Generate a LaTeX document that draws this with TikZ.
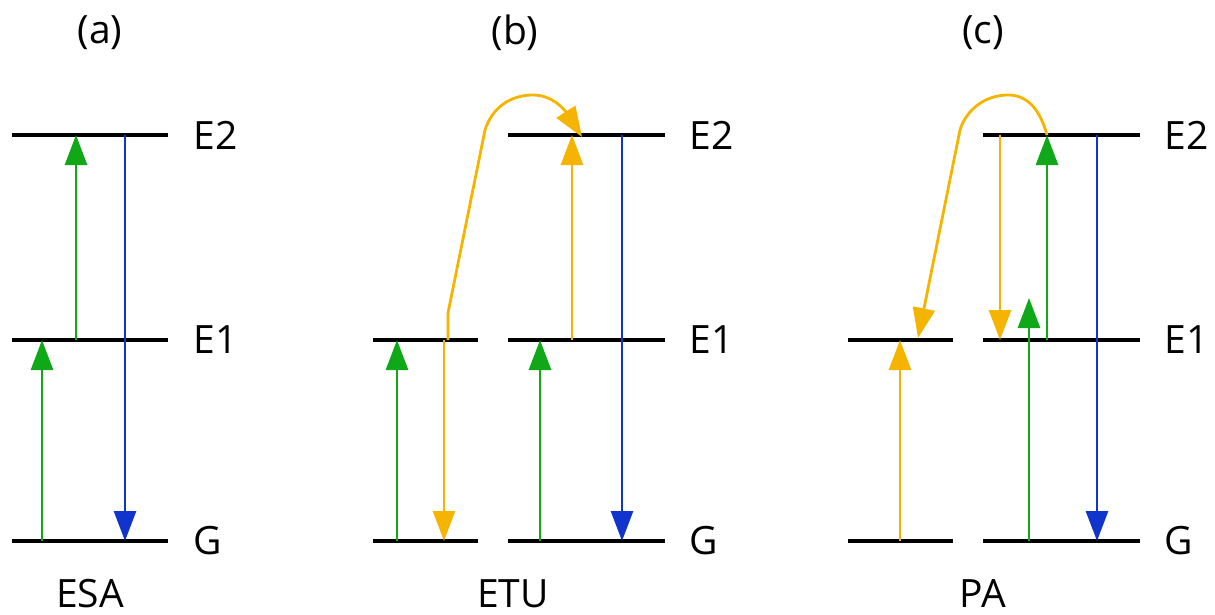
\documentclass[tikz,border=0pt]{standalone}
\usepackage{fontspec}
\setmainfont{Open Sans}
\usetikzlibrary{arrows.meta}
\definecolor{cgreen}{RGB}{16,168,24}
\definecolor{corange}{RGB}{245,180,0}
\definecolor{cblue}{RGB}{16,52,204}
\tikzset{
  level/.style={line width=2pt,black},
  tr/.style={line width=1.4pt,-{Triangle[length=15pt,width=11pt]}},
  gr/.style={tr,cgreen},
  orr/.style={tr,corange},
  bl/.style={tr,cblue},
  lab/.style={font=\fontsize{19.5}{23}\selectfont,inner sep=0pt},
}
\begin{document}
\begin{tikzpicture}[x=0.5pt,y=-0.5pt]
\useasboundingbox (0,0) rectangle (1215,615);
% ---------- level coordinates
\foreach \n/\y in {E2/135,E1/340,G/541}{
  \coordinate (a\n l) at (12,\y); \coordinate (a\n r) at (168,\y);
  \coordinate (b\n l) at (508,\y); \coordinate (b\n r) at (665,\y);
  \coordinate (c\n l) at (983,\y); \coordinate (c\n r) at (1140,\y);
}
\foreach \n/\y in {E1/340,G/541}{
  \coordinate (bs\n l) at (373,\y); \coordinate (bs\n r) at (478,\y);
  \coordinate (cs\n l) at (848,\y); \coordinate (cs\n r) at (953,\y);
}
\foreach \p in {a,b,c}{
  \draw[level] (\p E2l) -- (\p E2r);
  \draw[level] (\p E1l) -- (\p E1r);
  \draw[level] (\p Gl) -- (\p Gr);
}
\foreach \p in {bs,cs}{
  \draw[level] (\p E1l) -- (\p E1r);
  \draw[level] (\p Gl) -- (\p Gr);
}
% ---------- labels
\node[lab,anchor=west] (la2) at (193,135) {E2};
\node[lab,anchor=west] (la1) at (193,340) {E1};
\node[lab,anchor=west] (la0) at (193,541) {G};
\node[lab,anchor=west] (lb2) at (689,135) {E2};
\node[lab,anchor=west] (lb1) at (689,340) {E1};
\node[lab,anchor=west] (lb0) at (689,541) {G};
\node[lab,anchor=west] (lc2) at (1164,135) {E2};
\node[lab,anchor=west] (lc1) at (1164,340) {E1};
\node[lab,anchor=west] (lc0) at (1164,541) {G};
\node[lab] (ta) at (100,33) {(a)};
\node[lab] (tb) at (515,33) {(b)};
\node[lab] (tc) at (983,33) {(c)};
\node[lab] (na) at (90,594) {ESA};
\node[lab] (nb) at (513,594) {ETU};
\node[lab] (nc) at (983,594) {PA};
% ---------- panel a arrows
\coordinate (a1s) at (42,541); \coordinate (a1e) at (42,340);
\coordinate (a2s) at (76,340); \coordinate (a2e) at (76,135);
\coordinate (a3s) at (125,135); \coordinate (a3e) at (125,541);
\draw[gr] (a1s) -- (a1e);
\draw[gr] (a2s) -- (a2e);
\draw[bl] (a3s) -- (a3e);
% ---------- panel b arrows
\coordinate (b1s) at (397,541); \coordinate (b1e) at (397,340);
\coordinate (b2s) at (444,340); \coordinate (b2e) at (444,541);
\coordinate (b3s) at (540,541); \coordinate (b3e) at (540,340);
\coordinate (b4s) at (572,340); \coordinate (b4e) at (572,135);
\coordinate (b5s) at (622,135); \coordinate (b5e) at (622,541);
\coordinate (bcs) at (448,340); \coordinate (bc1) at (448,313);
\coordinate (bc2) at (485,130); \coordinate (bc3) at (533,95);
\coordinate (bce) at (582,137);
\draw[gr] (b1s) -- (b1e);
\draw[orr] (b2s) -- (b2e);
\draw[gr] (b3s) -- (b3e);
\draw[orr] (b4s) -- (b4e);
\draw[bl] (b5s) -- (b5e);
\draw[orr,line join=round] (bcs) -- (bc1) -- (bc2)
  .. controls (492,108) and (510,95) .. (bc3)
  .. controls (554,95) and (566,112) .. (bce);
% ---------- panel c arrows
\coordinate (c1s) at (900,541); \coordinate (c1e) at (900,340);
\coordinate (c2s) at (1000,135); \coordinate (c2e) at (1000,340);
\coordinate (c3s) at (1029,541); \coordinate (c3e) at (1029,298);
\coordinate (c4s) at (1047,340); \coordinate (c4e) at (1047,135);
\coordinate (c5s) at (1097,135); \coordinate (c5e) at (1097,541);
\coordinate (ccs) at (1047,135); \coordinate (cc1) at (1008,95);
\coordinate (cc2) at (960,130); \coordinate (cce) at (918,338);
\draw[orr] (c1s) -- (c1e);
\draw[orr] (c2s) -- (c2e);
\draw[gr] (c3s) -- (c3e);
\draw[gr] (c4s) -- (c4e);
\draw[bl] (c5s) -- (c5e);
\draw[orr,line join=round] (ccs)
  .. controls (1040,110) and (1028,95) .. (cc1)
  .. controls (985,95) and (966,110) .. (cc2) -- (cce);
\end{tikzpicture}
\end{document}
